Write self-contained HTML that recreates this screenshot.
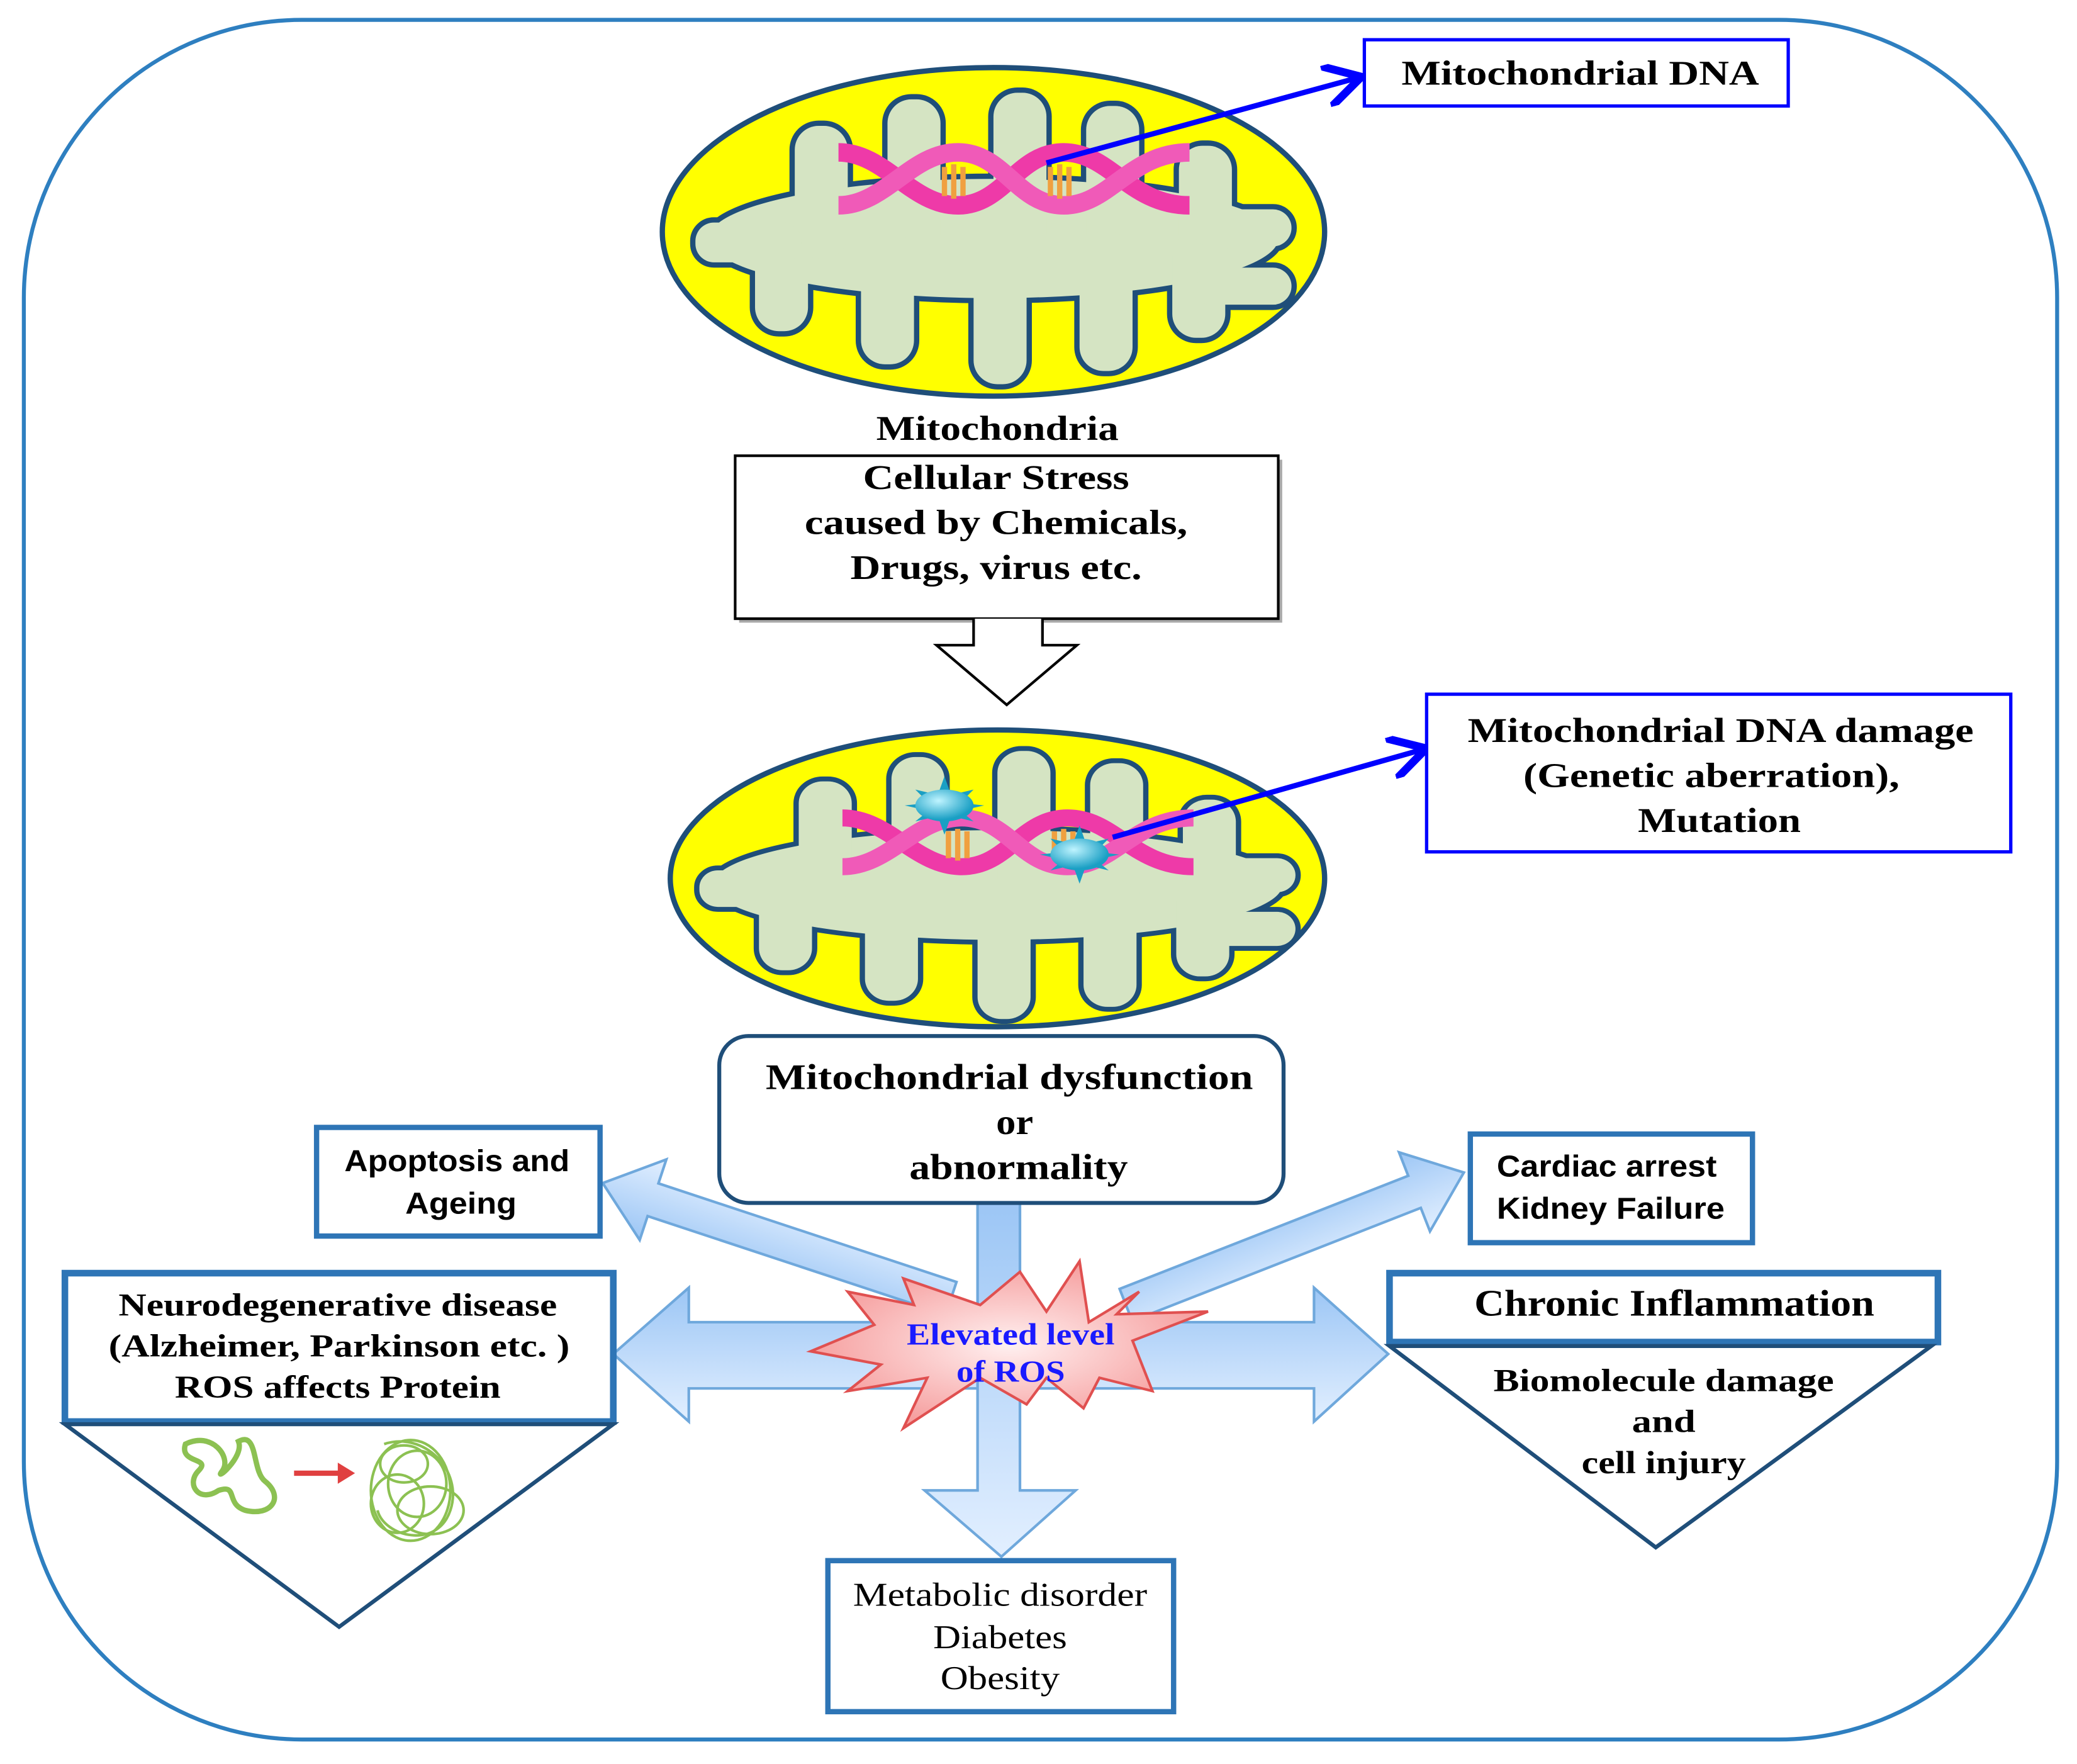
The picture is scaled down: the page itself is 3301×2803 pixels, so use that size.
<!DOCTYPE html>
<html><head><meta charset="utf-8"><style>
html,body{margin:0;padding:0;background:#fff}
svg{display:block}
.sb{font-family:"Liberation Serif",serif;font-weight:bold;fill:#000;text-anchor:middle}
.ss{font-family:"Liberation Sans",sans-serif;font-weight:bold;fill:#000;text-anchor:middle}
</style></head><body>
<svg width="3301" height="2803" viewBox="0 0 1568 1331.5" preserveAspectRatio="none" xmlns="http://www.w3.org/2000/svg">
<defs>
<linearGradient id="bg" x1="0" y1="0" x2="0" y2="1"><stop offset="0" stop-color="#9cc6f5"/><stop offset="1" stop-color="#e2efff"/></linearGradient>
<radialGradient id="st" cx="0.5" cy="0.5" r="0.5"><stop offset="0" stop-color="#fff0f0"/><stop offset="1" stop-color="#f6a0a0"/></radialGradient>
<radialGradient id="ball" cx="0.4" cy="0.35" r="0.6"><stop offset="0" stop-color="#bff4ff"/><stop offset="1" stop-color="#1a9fc4"/></radialGradient>
<g id="inner">
<ellipse cx="0" cy="0" rx="215" ry="45"/>
<rect x="-150" y="-85" width="40" height="100" rx="18"/>
<rect x="-80" y="-105" width="40" height="120" rx="18"/>
<rect x="0" y="-110" width="40" height="125" rx="18"/>
<rect x="70" y="-100" width="40" height="115" rx="18"/>
<rect x="140" y="-70" width="40" height="85" rx="18"/>
<rect x="-180" y="-5" width="40" height="75" rx="18"/>
<rect x="-100" y="-5" width="40" height="100" rx="18"/>
<rect x="-15" y="-5" width="40" height="115" rx="18"/>
<rect x="65" y="-5" width="40" height="105" rx="18"/>
<rect x="135" y="-5" width="40" height="80" rx="18"/>
<rect x="-225" y="-12" width="80" height="30" rx="14"/>
<rect x="150" y="-22" width="75" height="28" rx="14"/>
<rect x="150" y="22" width="75" height="28" rx="14"/>
</g>
<g id="dna">
<path d="M-125,-25 C-90,-25 -70,15 -35,15 C0,15 10,-25 45,-25 C80,-25 95,15 140,15" fill="none" stroke="#ee3aa8" stroke-width="14"/>
<path d="M-125,15 C-90,15 -70,-25 -35,-25 C0,-25 10,15 45,15 C80,15 95,-25 140,-25" fill="none" stroke="#f05ab8" stroke-width="14"/>
<path d="M-45,-14 v22 M-38,-16 v26 M-31,-14 v22 M35,-14 v22 M42,-16 v26 M49,-14 v22" stroke="#f0a040" stroke-width="4"/>
</g>
<marker id="ah" markerWidth="8" markerHeight="8" refX="6" refY="4" orient="auto" markerUnits="strokeWidth"><path d="M0,0 L7,4 L0,8" fill="none" stroke="#0000ff" stroke-width="1.5"/></marker>
</defs>

<rect x="18" y="15" width="1535" height="1298" rx="210" fill="#fff" stroke="#2e7fc0" stroke-width="3"/>

<!-- Mito 1 -->
<ellipse cx="750" cy="175" rx="250" ry="124" fill="#ffff00" stroke="#1f4e79" stroke-width="4"/>
<g transform="translate(750,180)"><use href="#inner" fill="#1f4e79" stroke="#1f4e79" stroke-width="8"/><use href="#inner" fill="#d5e4c3"/><g transform="translate(8,-40)"><use href="#dna"/></g></g>
<line x1="790" y1="123" x2="1024" y2="59" stroke="#0000ff" stroke-width="4" marker-end="url(#ah)"/>
<rect x="1030" y="30" width="320" height="50" fill="#fff" stroke="#0000ff" stroke-width="2.5"/>
<text x="1193" y="64" class="sb" font-size="26" textLength="270" lengthAdjust="spacingAndGlyphs">Mitochondrial DNA</text>

<text x="753" y="332" class="sb" font-size="26" textLength="183" lengthAdjust="spacingAndGlyphs">Mitochondria</text>
<rect x="558" y="347" width="410" height="123" fill="#aaa"/>
<rect x="555" y="344" width="410" height="123" fill="#fff" stroke="#000" stroke-width="2"/>
<text x="752" y="369" class="sb" font-size="26" textLength="201" lengthAdjust="spacingAndGlyphs">Cellular  Stress</text>
<text x="752" y="403" class="sb" font-size="26" textLength="289" lengthAdjust="spacingAndGlyphs">caused by Chemicals,</text>
<text x="752" y="437" class="sb" font-size="26" textLength="220" lengthAdjust="spacingAndGlyphs">Drugs, virus etc.</text>
<path d="M735,467 V487 H707 L760,532 L813,487 H787 V467" fill="#fff" stroke="#000" stroke-width="2"/>

<!-- Mito 2 -->
<ellipse cx="753" cy="663" rx="247" ry="112" fill="#ffff00" stroke="#1f4e79" stroke-width="4"/>
<g transform="translate(753,668) scale(1,0.92)"><use href="#inner" fill="#1f4e79" stroke="#1f4e79" stroke-width="8"/><use href="#inner" fill="#d5e4c3"/><g transform="translate(8,-30)"><use href="#dna"/></g></g>
<g transform="translate(713,608)"><polygon points="0,-22 5,-8 22,-12 12,-2 30,0 12,4 22,12 5,8 0,22 -5,8 -22,12 -12,4 -30,0 -12,-2 -22,-12 -5,-8" fill="#1a9fc4"/><ellipse rx="22" ry="12" fill="url(#ball)"/></g>
<g transform="translate(815,645)"><polygon points="0,-22 5,-8 22,-12 12,-2 30,0 12,4 22,12 5,8 0,22 -5,8 -22,12 -12,4 -30,0 -12,-2 -22,-12 -5,-8" fill="#1a9fc4"/><ellipse rx="22" ry="12" fill="url(#ball)"/></g>
<line x1="840" y1="632" x2="1073" y2="566" stroke="#0000ff" stroke-width="4" marker-end="url(#ah)"/>
<rect x="1077" y="524" width="441" height="119" fill="#fff" stroke="#0000ff" stroke-width="2.5"/>
<text x="1299" y="560" class="sb" font-size="26" textLength="382" lengthAdjust="spacingAndGlyphs">Mitochondrial DNA damage</text>
<text x="1292" y="594" class="sb" font-size="26" textLength="284" lengthAdjust="spacingAndGlyphs">(Genetic  aberration),</text>
<text x="1298" y="628" class="sb" font-size="26" textLength="123" lengthAdjust="spacingAndGlyphs">Mutation</text>

<!-- blue arrows -->
<g fill="url(#bg)" stroke="#6fa8dc" stroke-width="2">
<path d="M463,1022 L520,972 V998 H992 V972 L1048,1022 L992,1073 V1048 H520 V1073 Z"/>
<path d="M738,908 H770 V1125 H812 L756,1175 L698,1125 H738 Z"/>
<g transform="translate(718,980) rotate(198.3)"><path d="M0,-13 H237 V-32 L277,0 L237,32 V13 H0 Z"/></g>
<g transform="translate(850,985) rotate(-21.4)"><path d="M0,-13 H234 V-32 L274,0 L234,32 V13 H0 Z"/></g>
</g>
<polygon points="815,952 822,998 860,975 843,992 912,990 855,1012 870,1050 830,1040 818,1063 790,1040 775,1060 740,1040 682,1078 700,1040 640,1050 665,1030 612,1020 660,1000 640,975 690,985 682,965 740,985 770,960 790,990" fill="url(#st)" stroke="#e05050" stroke-width="2"/>
<text x="763" y="1015" class="sb" font-size="23" style="fill:#1a1aff" textLength="157" lengthAdjust="spacingAndGlyphs">Elevated level</text>
<text x="763" y="1043" class="sb" font-size="23" style="fill:#1a1aff" textLength="82" lengthAdjust="spacingAndGlyphs">of ROS</text>

<!-- dysfunction -->
<rect x="543" y="782" width="426" height="126" rx="22" fill="#fff" stroke="#1f4e79" stroke-width="3"/>
<text x="762" y="822" class="sb" font-size="27" textLength="368" lengthAdjust="spacingAndGlyphs">Mitochondrial  dysfunction</text>
<text x="766" y="856" class="sb" font-size="27" textLength="28" lengthAdjust="spacingAndGlyphs">or</text>
<text x="769" y="890" class="sb" font-size="27" textLength="165" lengthAdjust="spacingAndGlyphs">abnormality</text>

<rect x="239" y="851" width="214" height="82" fill="#fff" stroke="#2e75b6" stroke-width="4"/>
<text x="345" y="884" class="ss" font-size="23" textLength="170" lengthAdjust="spacingAndGlyphs">Apoptosis and</text>
<text x="348" y="916" class="ss" font-size="23" textLength="84" lengthAdjust="spacingAndGlyphs">Ageing</text>
<rect x="1110" y="856" width="213" height="82" fill="#fff" stroke="#2e75b6" stroke-width="4"/>
<text x="1213" y="888" class="ss" font-size="23" textLength="166" lengthAdjust="spacingAndGlyphs">Cardiac arrest</text>
<text x="1216" y="920" class="ss" font-size="23" textLength="172" lengthAdjust="spacingAndGlyphs">Kidney Failure</text>

<rect x="49" y="961" width="414" height="112" fill="#fff" stroke="#2e75b6" stroke-width="5"/>
<text x="255" y="993" class="sb" font-size="24" textLength="331" lengthAdjust="spacingAndGlyphs">Neurodegenerative disease</text>
<text x="256" y="1024" class="sb" font-size="24" textLength="348" lengthAdjust="spacingAndGlyphs">(Alzheimer,  Parkinson etc. )</text>
<text x="255" y="1055" class="sb" font-size="24" textLength="246" lengthAdjust="spacingAndGlyphs">ROS affects Protein</text>
<path d="M49,1075 L463,1075 L256,1228 Z" fill="#fff" stroke="#1f4e79" stroke-width="3"/>
<path d="M140,1090 C160,1080 175,1100 168,1110 C160,1120 185,1100 180,1088 C195,1080 190,1110 200,1118 C215,1130 205,1145 185,1140 C170,1135 180,1120 165,1125 C150,1135 140,1120 150,1110 C160,1100 135,1105 140,1090 Z" fill="none" stroke="#8cc152" stroke-width="4"/>
<line x1="222" y1="1112" x2="258" y2="1112" stroke="#e04040" stroke-width="4"/><path d="M255,1104 L268,1112 L255,1120 Z" fill="#e04040"/>
<g fill="none" stroke="#8cc152" stroke-width="2"><ellipse cx="310" cy="1125" rx="30" ry="38"/><ellipse cx="315" cy="1120" rx="22" ry="25"/><ellipse cx="300" cy="1135" rx="20" ry="22"/><ellipse cx="325" cy="1140" rx="25" ry="18"/><ellipse cx="305" cy="1105" rx="18" ry="14"/><path d="M290,1090 C320,1080 350,1110 340,1140 C330,1170 290,1160 285,1140"/></g>

<rect x="1049" y="961" width="414" height="52" fill="#fff" stroke="#2e75b6" stroke-width="5"/>
<text x="1264" y="993" class="sb" font-size="28" textLength="302" lengthAdjust="spacingAndGlyphs">Chronic Inflammation</text>
<path d="M1049,1016 L1458,1016 L1250,1168 Z" fill="#fff" stroke="#1f4e79" stroke-width="3"/>
<text x="1256" y="1050" class="sb" font-size="24" textLength="257" lengthAdjust="spacingAndGlyphs">Biomolecule damage</text>
<text x="1256" y="1081" class="sb" font-size="24" textLength="48" lengthAdjust="spacingAndGlyphs">and</text>
<text x="1256" y="1112" class="sb" font-size="24" textLength="124" lengthAdjust="spacingAndGlyphs">cell injury</text>

<rect x="625" y="1178" width="261" height="114" fill="#fff" stroke="#2e75b6" stroke-width="4"/>
<text x="755" y="1212" font-family="Liberation Serif,serif" font-size="25" text-anchor="middle" textLength="222" lengthAdjust="spacingAndGlyphs">Metabolic disorder</text>
<text x="755" y="1244" font-family="Liberation Serif,serif" font-size="25" text-anchor="middle" textLength="101" lengthAdjust="spacingAndGlyphs">Diabetes</text>
<text x="755" y="1275" font-family="Liberation Serif,serif" font-size="25" text-anchor="middle" textLength="90" lengthAdjust="spacingAndGlyphs">Obesity</text>
</svg>
</body></html>
